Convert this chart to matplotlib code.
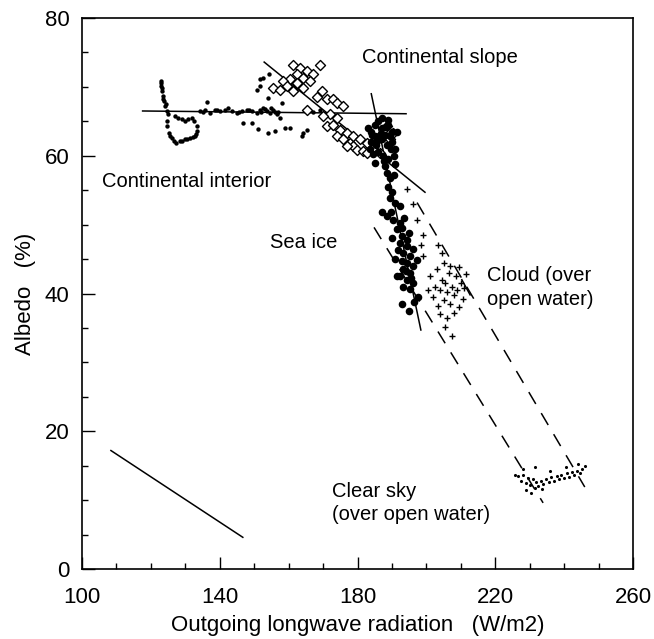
import matplotlib
matplotlib.use("Agg")
import matplotlib.pyplot as plt
from matplotlib.ticker import FixedLocator, MultipleLocator

plt.rcParams['font.family'] = ['Liberation Sans', 'DejaVu Sans']

# ---- data ----
interior_x = [122.8,123.0,123.2,123.4,123.8,124.1,124.6,125.0,124.6,124.7,125.3,126.0,127.3,128.4,129.9,
              131.3,132.8,133.5,133.3,132.5,131.8,130.9,129.9,128.9,128.0,127.0,134.2,135.7,136.4,137.2,
              138.6,140.1,141.5,142.5,143.5,144.9,146.4,147.8,149.3,150.7,151.7,152.6,153.6,154.6,155.6,
              156.5,157.5,146.8,149.3,151.2,154.1,156.0,158.9,160.4,163.8,164.2,165.2,150.7,151.7,151.7,
              152.6,154.4,154.1,158.0,171.1,172.9,167.0,169.0,
              122.9,123.1,123.6,124.3,125.6,126.6,129.1,130.5,132.1,133.0,135.0,139.3,145.6,148.5,
              152.0,153.1,154.9,155.9,157.0]
interior_y = [70.8,70.1,69.4,68.7,67.9,67.2,66.5,66.0,65.0,64.3,63.3,62.6,61.9,62.1,62.4,
              62.6,62.9,63.6,64.3,65.0,65.5,65.3,65.0,65.3,65.5,65.8,66.5,66.7,67.8,66.2,
              66.7,66.5,66.7,67.0,66.5,66.2,66.5,66.7,66.5,66.2,66.7,67.0,66.5,66.2,66.7,
              66.0,65.5,64.8,64.8,63.9,63.3,63.6,64.1,64.1,62.9,63.3,63.8,69.6,70.1,71.1,
              71.3,71.8,68.4,67.7,64.2,64.1,66.3,66.6,
              70.5,69.8,68.3,67.5,62.9,62.2,62.2,62.5,62.7,63.2,66.4,66.6,66.4,66.6,
              66.3,66.8,66.9,66.4,66.3]

slope_x = [161.4,163.3,165.3,167.2,162.3,164.3,166.2,160.4,162.3,158.5,159.4,161.4,164.3,155.6,157.5,
           169.1,169.6,168.2,171.1,173.0,174.0,175.9,165.3,172.0,174.0,170.1,171.1,173.0,174.9,176.9,
           174.0,175.9,177.8,178.8,179.8,181.7,182.7,176.9,178.8,180.7,182.7,184.6,186.5,188.5,189.4,190.4]
slope_y = [73.2,72.8,72.3,71.8,71.8,71.3,70.8,71.1,70.6,70.8,70.1,69.4,69.9,69.9,69.6,
           73.2,69.4,68.6,68.2,68.2,67.7,67.2,66.7,66.0,65.5,65.7,64.3,64.5,63.8,63.3,
           62.8,62.4,61.9,61.4,60.9,60.7,60.4,61.4,62.8,62.4,61.9,61.1,60.4,64.3,62.4,63.3]

seaice_x = [183,184,185,186,187,188,189,190,184,185.5,187,188.5,190,191,186,187.5,189,190.5,185,188,
            186.5,189.5,184.5,191.5,183.5,187,189,
            188.5,189.5,190.5,189,190,189.5,191,192.3,187,188.5,190.4,192.3,191.4,192.8,194.3,192.3,
            194.3,196.2,193.3,195.2,197.2,194.3,196.2,193.3,195.2,192.3,194.3,196.2,195.2,193.3,191.4,
            191,193,190,194,195.5,192.8,191.8,189.8,193.5,195,193,195,196.5,197.5,
            185.8,186.8,188.2,189.8,184.2,185.2,187.8,190.8]
seaice_y = [64,63.5,64.5,65,64,63,64.5,63.5,62,61.5,62.5,61.5,62,61,60.5,60,59.5,60,59,58.5,
            63,62.8,60.2,63.5,61,65.5,65.2,
            57.5,56.8,57.2,55.5,54.8,53.8,53.2,52.7,51.9,51.2,50.7,50.2,49.3,48.3,47.8,47.3,
            46.9,46.4,45.9,45.4,44.9,44.4,44.0,43.5,43.0,42.5,42.0,41.5,40.6,41.0,42.5,
            45,49.5,48,43.2,42.3,44.7,46.3,51.8,51,48.8,38.5,37.5,38.8,39.5,
            62.2,63.2,64.2,61.0,63.0,62.8,59.2,58.8]

cloud_x = [201,202.5,203,204,204.5,205,205.5,206,206.5,207,207.5,208,208.5,209,209.5,210,210.5,211,
           203.5,204,206,208,202,200.5,205,207,209.5,211.5,205.4,207.3,204.4,203.5,198.5,199,
           194.3,197.2,199,196]
cloud_y = [42.5,41,43.5,40.5,42,39,41.5,40.2,43,38.5,41,39.8,42.5,40.5,38,41.5,39.2,40.8,
           38.2,37,36.5,37.2,39.5,40.5,44.5,44,43.8,42.8,35.2,33.8,45.9,47.1,47,45.5,
           55.1,50.6,48.5,53]

clear_x = [226.5,227.5,228,228.8,229.5,230.2,231,231.8,232.5,233.2,234,234.8,235.5,236.2,237,237.8,
           238.5,239.2,240,240.8,241.5,242.3,243,243.8,244.5,245.3,229,230.5,231.5,233.5,236,240.5,
           228.2,225.8,246,244,231.4]
clear_y = [13.5,12.8,13.6,12.5,13.2,12.2,13.0,12.6,12.0,12.8,12.3,13.1,12.6,13.3,12.8,13.5,
           13.0,13.7,13.2,13.9,13.4,14.1,13.6,14.3,13.9,14.5,11.4,11.0,11.8,11.6,14.2,14.8,
           14.5,13.6,15.0,15.2,14.8]

# fitted / guide lines (endpoints in data units)
solid_lines = {
    'reference': ([108.4, 146.7], [17.2, 4.6]),
    'interior': ([117.6, 194.1], [66.5, 66.1]),
    'slope': ([152.9, 199.6], [73.6, 54.7]),
    'seaice': ([184.0, 198.4], [69.0, 34.7]),
    'cloud': ([210.3, 212.7], [42.0, 39.8]),
}
dashed_lines = {
    'A': ([184.8, 233.9], [49.6, 9.6]),
    'B': ([197.3, 246.0], [53.2, 11.9]),
}

labels = [
    (181.2, 74.2, "Continental slope"),
    (105.7, 56.3, "Continental interior"),
    (154.6, 47.4, "Sea ice"),
    (217.6, 40.9, "Cloud (over\nopen water)"),
    (172.6, 9.6, "Clear sky\n(over open water)"),
]

x_major = [100, 140, 180, 220, 260]
y_major = [0, 20, 40, 60, 80]

# ---- figure ----
fig = plt.figure(figsize=(6.54, 6.39), dpi=100)
ax = fig.add_axes([82/654, 1 - 569/639, 551/654, 551/639])

for xs, ys in solid_lines.values():
    ax.plot(xs, ys, color='black', lw=1.1, zorder=3)
for xs, ys in dashed_lines.values():
    ax.plot(xs, ys, color='black', lw=1.1, dashes=(9, 7), zorder=3)

ax.scatter(interior_x, interior_y, s=10, color='black', marker='o', lw=0, zorder=4)
ax.scatter(slope_x, slope_y, s=26, facecolor='white', edgecolor='black', marker='D', lw=1.0, zorder=4)
ax.scatter(seaice_x, seaice_y, s=30, color='black', marker='o', lw=0, zorder=5)
ax.scatter(cloud_x, cloud_y, s=16, color='black', marker='+', lw=1.0, zorder=4)
ax.scatter(clear_x, clear_y, s=5, color='black', marker='o', lw=0, zorder=4)

for x, y, t in labels:
    ax.text(x, y, t, fontsize=14.5, ha='left', va='center', linespacing=1.3)

ax.set_xlim(100, 260)
ax.set_ylim(0, 80)
ax.xaxis.set_major_locator(FixedLocator(x_major))
ax.xaxis.set_minor_locator(MultipleLocator(10))
ax.yaxis.set_major_locator(FixedLocator(y_major))
ax.yaxis.set_minor_locator(MultipleLocator(5))
ax.tick_params(which='both', direction='in', top=False, right=False, labelsize=16, width=1.0)
ax.tick_params(axis='x', which='major', pad=13)
ax.tick_params(axis='y', which='major', pad=9)
ax.tick_params(which='major', length=9)
ax.tick_params(which='minor', length=4)
for sp in ax.spines.values():
    sp.set_linewidth(1.2)

ax.set_xlabel("Outgoing longwave radiation   (W/m2)", fontsize=16, labelpad=5)
ax.set_ylabel("Albedo   (%)", fontsize=16, labelpad=6)

fig.savefig("out.png", dpi=100)
